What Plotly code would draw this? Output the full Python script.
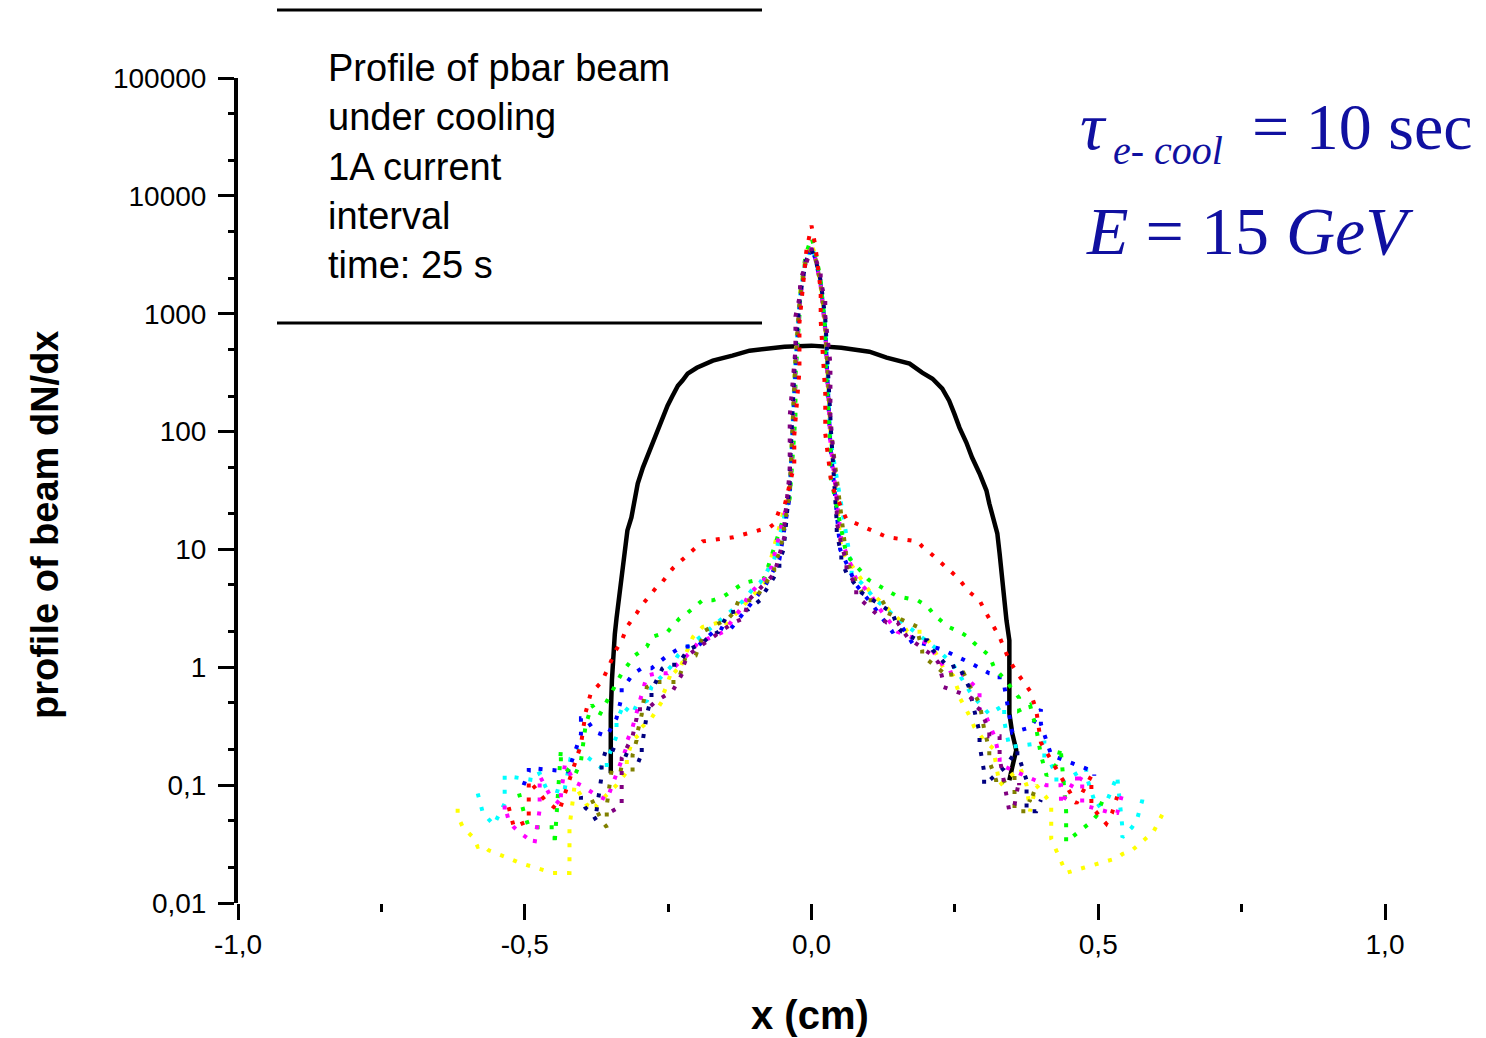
import plotly.graph_objects as go

# ---------------- data (x in cm, y = dN/dx) ----------------
black_x = [-0.350, -0.350, -0.348, -0.347, -0.343, -0.340, -0.334, -0.331, -0.326, -0.321, -0.314,
           -0.303, -0.294, -0.286, -0.277, -0.268, -0.260, -0.251, -0.242, -0.233, -0.225, -0.216,
           -0.200, -0.172, -0.138, -0.108, -0.047, 0.000, 0.052, 0.101, 0.131, 0.171, 0.193, 0.211,
           0.228, 0.240, 0.249, 0.258, 0.270, 0.280, 0.293, 0.305, 0.310, 0.319, 0.324, 0.328, 0.331,
           0.336, 0.340, 0.345, 0.345, 0.350, 0.357, 0.350, 0.345]
black_y = [0.126, 0.40, 0.78, 1.0, 1.9, 2.6, 4.6, 6.3, 9.8, 14.5, 18.7,
           36.2, 49.5, 62.7, 80.7, 102, 131, 166, 202, 245, 271, 310,
           348, 400, 441, 486, 525, 536, 515, 476, 424, 377, 316, 281,
           231, 183, 142, 108, 80.7, 60.2, 44.1, 31.6, 24.5, 17.6, 13.7, 9.25, 6.26,
           3.92, 2.50, 1.69, 0.407, 0.276, 0.198, 0.142, 0.110]

red_x = [-0.528, -0.519, -0.493, -0.493, -0.465, -0.44, -0.402, -0.394, -0.385, -0.366, -0.355,
         -0.341, -0.331, -0.322, -0.305, -0.296, -0.27, -0.26, -0.242, -0.225, -0.207, -0.19,
         -0.136, -0.073, -0.065, -0.056, -0.047, -0.03, -0.03, -0.021, -0.021, -0.009, 0.0, 0.007,
         0.016, 0.016, 0.024, 0.024, 0.035, 0.052, 0.061, 0.132, 0.185, 0.193, 0.202, 0.256, 0.274,
         0.293, 0.301, 0.328, 0.345, 0.359, 0.381, 0.392, 0.40, 0.462, 0.488, 0.488, 0.514, 0.524, 0.533]
red_y = [0.065, 0.044, 0.05, 0.11, 0.075, 0.06, 0.22, 0.41, 0.6, 0.75, 0.98,
         1.4, 1.67, 2.2, 2.87, 3.36, 4.8, 5.3, 6.9, 8.2, 9.8, 11.7,
         12.7, 15.4, 16.5, 21.6, 23.5, 52, 92, 329, 835, 3400, 5600, 3700,
         1570, 870, 210, 96, 35, 22, 18, 12.7, 11.7, 10.6, 9.8, 5.7, 4.4,
         3.7, 3.1, 1.8, 1.14, 0.89, 0.63, 0.43, 0.23, 0.07, 0.12, 0.066, 0.047, 0.058, 0.08]

green_x = [-0.51, -0.502, -0.493, -0.448, -0.448, -0.437, -0.437, -0.413, -0.402, -0.394, -0.383,
           -0.37, -0.34, -0.331, -0.308, -0.287, -0.279, -0.251, -0.23, -0.216, -0.19, -0.172,
           -0.153, -0.118, -0.082, -0.038, -0.038, -0.028, -0.028, -0.02, -0.02, -0.01, 0.0, 0.007,
           0.016, 0.024, 0.024, 0.033, 0.033, 0.061, 0.10, 0.15, 0.185, 0.202, 0.211, 0.221, 0.239,
           0.258, 0.274, 0.284, 0.31, 0.319, 0.336, 0.362, 0.362, 0.381, 0.392, 0.40, 0.41, 0.427,
           0.435, 0.435, 0.444, 0.444, 0.488, 0.497, 0.507]
green_y = [0.085, 0.06, 0.044, 0.044, 0.031, 0.2, 0.15, 0.12, 0.16, 0.32, 0.48,
           0.39, 0.75, 0.89, 1.26, 1.5, 1.8, 2.0, 2.6, 2.9, 3.7, 3.7,
           4.0, 5.2, 5.7, 26, 27, 135, 290, 1150, 1450, 3200, 4400, 3400,
           1900, 720, 425, 71, 42, 9.0, 5.5, 4.0, 3.7, 3.3, 2.9, 2.6, 2.2,
           2.0, 1.8, 1.6, 1.26, 0.98, 0.8, 0.55, 0.43, 0.48, 0.3, 0.18, 0.12, 0.15,
           0.21, 0.19, 0.06, 0.033, 0.049, 0.055, 0.073]

blue_x = [-0.502, -0.493, -0.493, -0.42, -0.42, -0.402, -0.402, -0.394, -0.383, -0.375, -0.357,
          -0.34, -0.331, -0.331, -0.321, -0.312, -0.296, -0.279, -0.251, -0.225, -0.199, -0.162,
          -0.145, -0.082, -0.056, -0.038, -0.028, -0.02, -0.01, 0.0, 0.007, 0.016, 0.024, 0.033,
          0.05, 0.078, 0.106, 0.141, 0.158, 0.176, 0.193, 0.23, 0.275, 0.31, 0.328, 0.328, 0.336,
          0.35, 0.35, 0.383, 0.40, 0.40, 0.418, 0.493, 0.493]
blue_y = [0.1, 0.13, 0.14, 0.13, 0.15, 0.27, 0.37, 0.37, 0.31, 0.28, 0.26,
          0.37, 0.56, 0.68, 0.75, 0.87, 0.98, 0.98, 1.26, 1.5, 1.5, 2.2,
          2.0, 4.8, 8.2, 28, 330, 1300, 2800, 3600, 2900, 1800, 750, 75,
          10, 5.0, 3.4, 2.0, 2.2, 1.6, 1.6, 1.4, 1.1, 0.89, 0.85, 0.77, 0.7,
          0.31, 0.28, 0.31, 0.44, 0.33, 0.18, 0.13, 0.12]

cyan_x = [-0.582, -0.573, -0.554, -0.535, -0.535, -0.483, -0.483, -0.474, -0.463, -0.43, -0.43,
          -0.42, -0.408, -0.357, -0.357, -0.34, -0.34, -0.331, -0.331, -0.312, -0.305, -0.287,
          -0.279, -0.242, -0.233, -0.216, -0.207, -0.118, -0.1, -0.09, -0.065, -0.038, -0.028,
          -0.02, -0.01, 0.0, 0.007, 0.016, 0.024, 0.033, 0.07, 0.07, 0.087, 0.113, 0.15, 0.193,
          0.221, 0.247, 0.28, 0.31, 0.336, 0.336, 0.345, 0.406, 0.406, 0.418, 0.427, 0.427, 0.479,
          0.479, 0.497, 0.516, 0.533, 0.542, 0.542, 0.559, 0.568, 0.577, 0.577]
cyan_y = [0.085, 0.058, 0.046, 0.07, 0.12, 0.11, 0.12, 0.126, 0.095, 0.085, 0.095,
          0.17, 0.2, 0.13, 0.16, 0.26, 0.35, 0.44, 0.48, 0.4, 0.48, 0.52,
          0.68, 1.05, 1.26, 1.5, 1.6, 3.7, 4.8, 5.2, 8.2, 30, 380,
          1400, 3000, 3700, 3000, 1800, 800, 85, 7.1, 6.2, 5.2, 3.7, 2.6, 1.8,
          1.4, 1.05, 0.58, 0.4, 0.48, 0.35, 0.21, 0.23, 0.17, 0.15, 0.12, 0.1, 0.14,
          0.12, 0.065, 0.075, 0.12, 0.044, 0.036, 0.044, 0.052, 0.075, 0.068]

magenta_x = [-0.535, -0.535, -0.528, -0.519, -0.51, -0.483, -0.474, -0.474, -0.456, -0.437, -0.437,
             -0.43, -0.413, -0.402, -0.375, -0.357, -0.321, -0.321, -0.312, -0.287, -0.27, -0.251,
             -0.207, -0.199, -0.153, -0.118, -0.11, -0.073, -0.038, -0.028, -0.02, -0.01, 0.0, 0.007,
             0.016, 0.024, 0.033, 0.052, 0.078, 0.096, 0.104, 0.113, 0.15, 0.202, 0.239, 0.256, 0.293,
             0.293, 0.293, 0.301, 0.31, 0.319, 0.328, 0.328, 0.39, 0.40, 0.409, 0.418, 0.435, 0.435,
             0.463, 0.463, 0.472, 0.472, 0.524, 0.533, 0.542]
magenta_y = [0.062, 0.068, 0.05, 0.044, 0.04, 0.032, 0.062, 0.12, 0.082, 0.068, 0.082,
             0.15, 0.106, 0.1, 0.082, 0.075, 0.22, 0.24, 0.31, 0.85, 0.89, 0.89,
             1.4, 1.6, 2.0, 3.4, 4.1, 6.2, 30, 360, 1300, 2900, 3600, 2900,
             1700, 700, 80, 12, 5.6, 4.5, 4.1, 3.4, 2.0, 1.6, 0.89, 0.95, 0.63,
             0.58, 0.44, 0.42, 0.33, 0.26, 0.17, 0.15, 0.11, 0.105, 0.1, 0.1, 0.1, 0.068,
             0.12, 0.1, 0.12, 0.068, 0.058, 0.058, 0.085]

yellow_x = [-0.617, -0.617, -0.608, -0.59, -0.582, -0.573, -0.563, -0.545, -0.528, -0.51, -0.479,
            -0.451, -0.422, -0.422, -0.413, -0.392, -0.375, -0.375, -0.34, -0.322, -0.322, -0.312,
            -0.296, -0.296, -0.279, -0.27, -0.26, -0.26, -0.251, -0.242, -0.233, -0.207, -0.19,
            -0.162, -0.153, -0.1, -0.082, -0.038, -0.028, -0.02, -0.01, 0.0, 0.007, 0.016, 0.024,
            0.033, 0.052, 0.10, 0.158, 0.167, 0.193, 0.211, 0.23, 0.247, 0.256, 0.256, 0.274, 0.284,
            0.301, 0.319, 0.319, 0.328, 0.364, 0.375, 0.381, 0.392, 0.418, 0.418, 0.444, 0.476,
            0.507, 0.533, 0.542, 0.559, 0.596, 0.613]
yellow_y = [0.063, 0.055, 0.044, 0.036, 0.03, 0.031, 0.028, 0.026, 0.024, 0.022, 0.02,
            0.018, 0.018, 0.044, 0.1, 0.068, 0.062, 0.068, 0.1, 0.13, 0.17, 0.24,
            0.28, 0.31, 0.37, 0.44, 0.52, 0.56, 0.75, 0.98, 0.89, 1.8, 2.2,
            2.4, 2.2, 4.1, 5.2, 33, 455, 1500, 3100, 3900, 3100, 1800, 835,
            100, 9.8, 4.5, 2.4, 2.0, 2.0, 1.5, 0.98, 0.85, 0.63, 0.58, 0.4, 0.31,
            0.24, 0.2, 0.18, 0.1, 0.14, 0.1, 0.06, 0.1, 0.07, 0.035, 0.018, 0.02,
            0.022, 0.024, 0.026, 0.028, 0.04, 0.058]

olive_x = [-0.383, -0.366, -0.357, -0.357, -0.348, -0.312, -0.312, -0.305, -0.305, -0.296, -0.296,
           -0.287, -0.27, -0.233, -0.22, -0.202, -0.19, -0.19, -0.145, -0.136, -0.127, -0.1,
           -0.065, -0.065, -0.054, -0.038, -0.028, -0.02, -0.01, 0.0, 0.007, 0.016, 0.024, 0.033,
           0.061, 0.07, 0.096, 0.123, 0.132, 0.132, 0.185, 0.185, 0.193, 0.193, 0.23, 0.23, 0.265,
           0.28, 0.293, 0.301, 0.31, 0.31, 0.322, 0.322, 0.354, 0.354, 0.373, 0.381, 0.381, 0.392]
olive_y = [0.075, 0.05, 0.044, 0.067, 0.14, 0.13, 0.18, 0.24, 0.26, 0.4, 0.44,
           0.68, 0.75, 0.75, 1.2, 1.26, 1.8, 2.0, 2.6, 2.9, 3.7, 3.7,
           6.6, 7.3, 10, 30, 400, 1400, 2800, 3500, 2900, 1800, 800, 110,
           8.5, 6.2, 3.7, 3.7, 3.1, 2.9, 2.2, 2.0, 1.4, 1.26, 0.9, 0.85, 0.9,
           0.63, 0.5, 0.3, 0.2, 0.16, 0.11, 0.1, 0.12, 0.06, 0.06, 0.075, 0.07, 0.1]

purple_x = [-0.348, -0.331, -0.331, -0.312, -0.305, -0.305, -0.287, -0.27, -0.242, -0.225, -0.225,
            -0.216, -0.172, -0.136, -0.118, -0.11, -0.065, -0.047, -0.047, -0.038, -0.038, -0.028,
            -0.028, -0.02, -0.02, -0.01, 0.0, 0.007, 0.016, 0.016, 0.024, 0.024, 0.033, 0.033,
            0.044, 0.044, 0.052, 0.061, 0.061, 0.078, 0.078, 0.087, 0.113, 0.122, 0.131, 0.15,
            0.167, 0.211, 0.221, 0.23, 0.23, 0.274, 0.284, 0.284, 0.293, 0.301, 0.31, 0.31, 0.328,
            0.328, 0.345, 0.354, 0.362, 0.362]
purple_y = [0.06, 0.067, 0.17, 0.26, 0.37, 0.44, 0.44, 0.52, 0.63, 0.89, 0.98,
            1.26, 1.8, 2.4, 2.6, 3.7, 6.2, 13, 17, 46, 135, 500,
            950, 1450, 1900, 2700, 3600, 2950, 2200, 1900, 1300, 970, 375, 135,
            27, 17, 11, 7.8, 6.6, 5.0, 4.1, 3.7, 2.8, 2.6, 2.4, 2.4,
            1.8, 1.26, 1.1, 0.75, 0.68, 0.57, 0.52, 0.48, 0.44, 0.37, 0.28, 0.26, 0.26,
            0.17, 0.06, 0.068, 0.11, 0.1]

navy_x = [-0.402, -0.402, -0.394, -0.383, -0.375, -0.375, -0.366, -0.366, -0.357, -0.296, -0.296,
          -0.287, -0.287, -0.279, -0.279, -0.26, -0.251, -0.233, -0.216, -0.19, -0.18, -0.162,
          -0.145, -0.11, -0.09, -0.082, -0.056, -0.056, -0.047, -0.047, -0.038, -0.038, -0.028,
          -0.028, -0.02, -0.01, 0.0, 0.007, 0.016, 0.024, 0.033, 0.033, 0.044, 0.044, 0.052,
          0.052, 0.061, 0.087, 0.141, 0.15, 0.158, 0.185, 0.202, 0.211, 0.221, 0.239, 0.256,
          0.274, 0.293, 0.293, 0.301, 0.301, 0.319, 0.336, 0.359, 0.359, 0.364, 0.375, 0.375,
          0.392, 0.40]
navy_y = [0.075, 0.08, 0.064, 0.058, 0.05, 0.06, 0.12, 0.15, 0.21, 0.16, 0.21,
          0.37, 0.4, 0.56, 0.63, 0.98, 1.05, 1.05, 1.4, 1.6, 1.8, 2.0,
          2.9, 3.1, 3.7, 4.3, 6.9, 8.0, 10.5, 12, 36, 45, 440,
          500, 1400, 2800, 3500, 2900, 1900, 920, 130, 120, 17, 14, 8.9,
          8.1, 6.3, 4.3, 2.9, 2.2, 2.0, 1.7, 1.7, 1.4, 1.26, 0.98, 1.05,
          0.69, 0.28, 0.22, 0.13, 0.1, 0.12, 0.14, 0.2, 0.16, 0.16, 0.11, 0.06,
          0.06, 0.075]

x_tick_vals = [-1.0, -0.5, 0.0, 0.5, 1.0]
x_tick_text = ["-1,0", "-0,5", "0,0", "0,5", "1,0"]
y_tick_vals = [0.01, 0.1, 1, 10, 100, 1000, 10000, 100000]
y_tick_text = ["0,01", "0,1", "1", "10", "100", "1000", "10000", "100000"]

header_lines = ["Profile of pbar beam", "under cooling", "1A current", "interval", "time: 25 s"]

# ---------------- figure ----------------
fig = go.Figure()

fig.add_trace(go.Scatter(x=black_x, y=black_y, mode="lines",
                         line=dict(color="black", width=4.5), showlegend=False, hoverinfo="skip"))

series = [
    (yellow_x, yellow_y, "#FFFF00"),
    (cyan_x, cyan_y, "#00FFFF"),
    (blue_x, blue_y, "#0000FF"),
    (green_x, green_y, "#00FF00"),
    (magenta_x, magenta_y, "#FF00FF"),
    (olive_x, olive_y, "#808000"),
    (navy_x, navy_y, "#000080"),
    (purple_x, purple_y, "#800080"),
    (red_x, red_y, "#FF0000"),
]
for sx, sy, col in series:
    fig.add_trace(go.Scatter(x=sx, y=sy, mode="lines",
                             line=dict(color=col, width=4, dash="4px,10px"),
                             showlegend=False, hoverinfo="skip"))

L, R, T, B = 238, 101, 78, 135
W, H = 1486, 1038
PW, PH = W - L - R, H - T - B


def px(xp):
    return (xp - L) / PW


def py(yp):
    return (H - B - yp) / PH


fig.update_layout(
    width=W, height=H,
    margin=dict(l=L, r=R, t=T, b=B, pad=0),
    paper_bgcolor="white", plot_bgcolor="white",
    font=dict(family="Liberation Sans, Arial, sans-serif", color="black"),
    xaxis=dict(range=[-1, 1], showgrid=False, zeroline=False, showline=False,
               ticks="outside", ticklen=16, tickwidth=3, tickcolor="black",
               tickvals=x_tick_vals, ticktext=x_tick_text,
               tickfont=dict(size=28, color="black"),
               minor=dict(ticks="outside", ticklen=8, tickwidth=3, tickcolor="black", dtick=0.25,
                          showgrid=False)),
    yaxis=dict(type="log", range=[-2, 5], showgrid=False, zeroline=False,
               showline=True, linewidth=4, linecolor="black",
               ticks="outside", ticklen=16, tickwidth=3, tickcolor="black",
               tickvals=y_tick_vals, ticktext=y_tick_text,
               tickfont=dict(size=28, color="black"), ticklabelstandoff=6,
               minor=dict(ticks="outside", ticklen=6, tickwidth=3, tickcolor="black",
                          showgrid=False)),
)

# header box lines
for yp in (10, 323):
    fig.add_shape(type="line", xref="paper", yref="paper",
                  x0=px(277), x1=px(762), y0=py(yp), y1=py(yp),
                  line=dict(color="black", width=3))

for i, txt in enumerate(header_lines):
    fig.add_annotation(xref="paper", yref="paper", x=px(326), y=py(68 + 49.3 * i),
                       xanchor="left", yanchor="middle", showarrow=False, text=txt,
                       font=dict(size=38, color="black", family="Liberation Sans, Arial"))

# axis titles
fig.add_annotation(xref="paper", yref="paper", x=px(810), y=py(1015), xanchor="center",
                   yanchor="middle", showarrow=False, text="<b>x (cm)</b>",
                   font=dict(size=40, color="black"))
fig.add_annotation(xref="paper", yref="paper", x=px(45), y=py(525), xanchor="center",
                   yanchor="middle", showarrow=False, textangle=-90,
                   text="<b>profile of beam dN/dx</b>", font=dict(size=38, color="black"))

# right-hand physics labels
blue = "#1010A0"
serif = "Liberation Serif, Times New Roman, serif"
fig.add_annotation(xref="paper", yref="paper", x=px(1078), y=py(126), xanchor="left",
                   yanchor="middle", showarrow=False, text="<i>τ</i>",
                   font=dict(size=68, color=blue, family=serif))
fig.add_annotation(xref="paper", yref="paper", x=px(1111), y=py(150), xanchor="left",
                   yanchor="middle", showarrow=False, text="<i>e- cool</i>",
                   font=dict(size=40, color=blue, family=serif))
fig.add_annotation(xref="paper", yref="paper", x=px(1250), y=py(126), xanchor="left",
                   yanchor="middle", showarrow=False, text="= 10 sec",
                   font=dict(size=66, color=blue, family=serif))
fig.add_annotation(xref="paper", yref="paper", x=px(1084), y=py(231), xanchor="left",
                   yanchor="middle", showarrow=False, text="<i>E</i> = 15 <i>GeV</i>",
                   font=dict(size=68, color=blue, family=serif))

fig.write_html("out.html", config={"displayModeBar": False},
               post_script="document.body.style.margin='0';")
